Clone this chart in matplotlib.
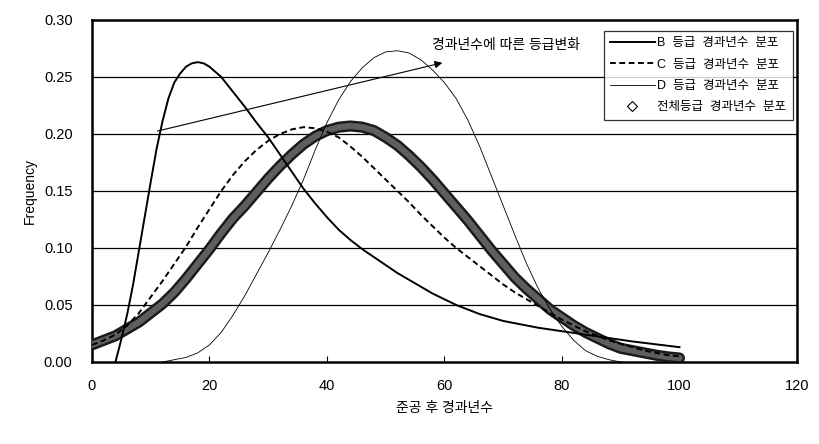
import matplotlib
matplotlib.use("Agg")
import matplotlib.pyplot as plt
import matplotlib.patheffects as pe
from matplotlib.lines import Line2D

plt.rcParams['font.family'] = ['Liberation Sans', 'Noto Sans CJK KR']

# B grade distribution
b_x = [4, 5, 6, 7, 8, 9, 10, 11, 12, 13, 14, 15, 16, 17, 18, 19, 20, 22, 24, 26, 28, 30,
       32, 34, 36, 38, 40, 42, 44, 46, 48, 50, 52, 54, 56, 58, 60, 62, 64, 66, 68, 70,
       72, 74, 76, 78, 80, 84, 88, 92, 96, 100]
b_y = [0.0, 0.020, 0.042, 0.068, 0.098, 0.128, 0.158, 0.187, 0.211, 0.231, 0.245, 0.253,
       0.259, 0.262, 0.263, 0.262, 0.259, 0.250, 0.237, 0.224, 0.210, 0.197, 0.182, 0.167,
       0.152, 0.139, 0.127, 0.116, 0.107, 0.099, 0.092, 0.085, 0.078, 0.072, 0.066, 0.060,
       0.055, 0.050, 0.046, 0.042, 0.039, 0.036, 0.034, 0.032, 0.030, 0.0285, 0.027, 0.024,
       0.021, 0.018, 0.0155, 0.013]

# C grade distribution
c_x = list(range(0, 101, 2))
c_y = [0.015, 0.019, 0.024, 0.032, 0.043, 0.057, 0.071, 0.086, 0.101, 0.118, 0.134, 0.150,
       0.164, 0.176, 0.186, 0.194, 0.200, 0.204, 0.206, 0.205, 0.202, 0.197, 0.189, 0.180,
       0.170, 0.160, 0.150, 0.140, 0.129, 0.119, 0.109, 0.100, 0.092, 0.084, 0.076, 0.068,
       0.061, 0.055, 0.049, 0.043, 0.037, 0.032, 0.027, 0.023, 0.019, 0.016, 0.013, 0.010,
       0.008, 0.006, 0.005]

# D grade distribution
d_x = list(range(12, 91, 2))
d_y = [0.0, 0.002, 0.004, 0.008, 0.015, 0.026, 0.041, 0.058, 0.077, 0.096, 0.116, 0.137,
       0.160, 0.186, 0.210, 0.230, 0.246, 0.258, 0.267, 0.272, 0.273, 0.271, 0.265, 0.256,
       0.245, 0.231, 0.212, 0.189, 0.163, 0.137, 0.111, 0.086, 0.064, 0.046, 0.031, 0.019,
       0.010, 0.005, 0.002, 0.0]

# all grades
all_x = list(range(0, 101, 2))
all_y = [0.015, 0.019, 0.023, 0.029, 0.035, 0.043, 0.051, 0.061, 0.073, 0.086, 0.099, 0.113,
         0.126, 0.137, 0.149, 0.161, 0.172, 0.182, 0.191, 0.198, 0.203, 0.206, 0.207, 0.206,
         0.203, 0.197, 0.190, 0.181, 0.171, 0.160, 0.148, 0.136, 0.124, 0.111, 0.098, 0.086,
         0.074, 0.064, 0.055, 0.046, 0.039, 0.032, 0.026, 0.021, 0.016, 0.012, 0.010, 0.008,
         0.006, 0.0045, 0.0035]

labels = ['B  등급  경과년수  분포', 'C  등급  경과년수  분포', 'D  등급  경과년수  분포',
          '전체등급  경과년수  분포']

fig = plt.figure(figsize=(8.19, 4.44), dpi=100)
ax = fig.add_axes([0.1123, 0.1847, 0.8608, 0.7703])

ax.set_xlim(0, 120)
ax.set_ylim(0, 0.30)
ax.set_xticks(range(0, 121, 20))
ax.set_yticks([0.0, 0.05, 0.10, 0.15, 0.20, 0.25, 0.30])
ax.set_yticklabels(['%.2f' % v for v in ax.get_yticks()])
for v in [0.05, 0.10, 0.15, 0.20, 0.25]:
    ax.axhline(v, color='black', lw=0.9, zorder=1)

# overall band
ax.plot(all_x, all_y, color='#5e5e5e', lw=4.5, solid_capstyle='round', zorder=3,
        path_effects=[pe.Stroke(linewidth=8, foreground='#1a1a1a'), pe.Normal()])
ax.plot(b_x, b_y, color='black', lw=1.4, zorder=4)
ax.plot(c_x, c_y, color='black', lw=1.4, linestyle=(0, (3, 1.8)), zorder=4)
ax.plot(d_x, d_y, color='black', lw=0.6, zorder=4)

ax.annotate('', xy=(60.1, 0.263), xytext=(10.7, 0.202),
            arrowprops=dict(arrowstyle='-|>', color='black', lw=0.8, mutation_scale=11))
ax.text(57.9, 0.278, '경과년수에 따른 등급변화', fontsize=10, va='center', ha='left')

handles = [Line2D([], [], color='black', lw=1.4),
           Line2D([], [], color='black', lw=1.4, linestyle=(0, (3, 1.8))),
           Line2D([], [], color='black', lw=0.6),
           Line2D([], [], color='black', lw=0, marker='D', markersize=5,
                  markerfacecolor='white', markeredgewidth=0.8)]
leg = ax.legend(handles, labels, loc='upper right', bbox_to_anchor=(0.994, 0.968),
                fontsize=9, frameon=True, fancybox=False, edgecolor='black',
                handlelength=3.6, handletextpad=0.2, labelspacing=0.75, borderpad=0.5,
                borderaxespad=0)
leg.get_frame().set_linewidth(0.9)
leg.set_zorder(6)

for s in ax.spines.values():
    s.set_linewidth(1.8)
ax.tick_params(axis='x', direction='in', length=4, width=0.8, pad=12, labelsize=10.5)
ax.tick_params(axis='y', length=0, pad=14, labelsize=10.5)
ax.set_xlabel('준공 후 경과년수', fontsize=10, labelpad=6)
ax.set_ylabel('Frequency', fontsize=10, labelpad=5)

fig.savefig('out.png', dpi=100)
